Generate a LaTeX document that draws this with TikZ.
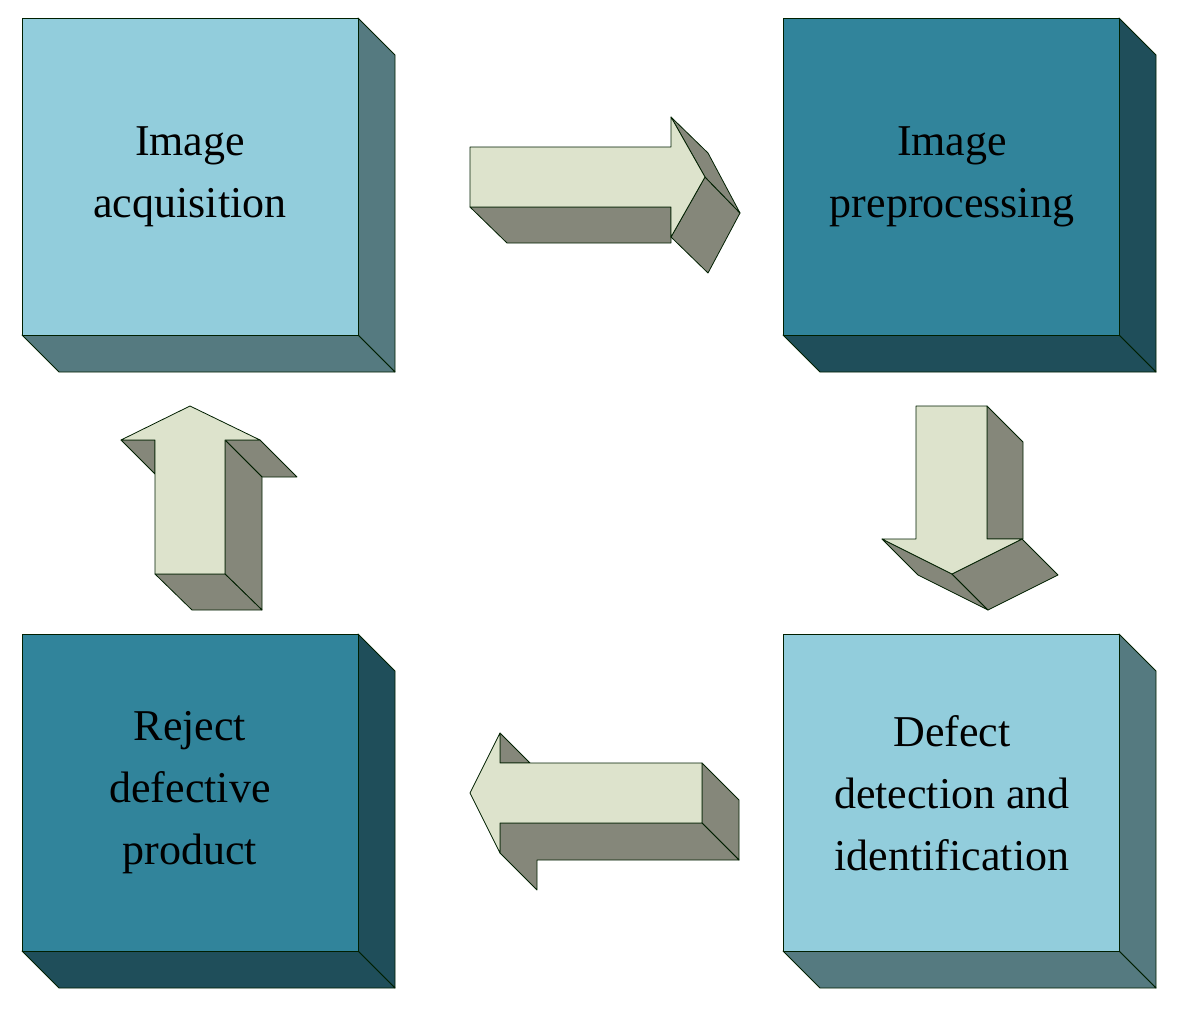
\documentclass[tikz,border=0pt]{standalone}
\usepackage{fontspec}
\setmainfont{Liberation Serif}
\begin{document}
\begin{tikzpicture}[x=1pt,y=-1pt,line join=round,
  edge/.style={draw=black!70!green!40!black,line width=0.8pt},
  lf/.style={edge,fill=lfront}, ls/.style={edge,fill=lside},
  df/.style={edge,fill=dfront}, ds/.style={edge,fill=dside},
  af/.style={edge,fill=afront}, as/.style={edge,fill=aside},
  lbl/.style={align=center,font=\fontsize{44}{62}\selectfont}]
\definecolor{lfront}{HTML}{92CDDC}\definecolor{lside}{HTML}{557A80}
\definecolor{dfront}{HTML}{31849B}\definecolor{dside}{HTML}{1F4E5A}
\definecolor{afront}{HTML}{DDE3CC}\definecolor{aside}{HTML}{85877A}
\useasboundingbox (0,0) rectangle (1189,1013);
% boxes
\foreach \x/\y/\f/\s in {22/18/lf/ls,783/18/df/ds,22/634/df/ds,783/634/lf/ls}{
  \draw[\s] (\x+336,\y) -- (\x+373,\y+37) -- (\x+373,\y+354) -- (\x+336,\y+317) -- cycle;
  \draw[\s] (\x,\y+317) -- (\x+336,\y+317) -- (\x+373,\y+354) -- (\x+37,\y+354) -- cycle;
  \draw[\f] (\x,\y) rectangle (\x+336,\y+317);
}
\node[lbl] (a) at (190,177) {Image\\acquisition};
\node[lbl] (b) at (952,177) {Image\\preprocessing};
\node[lbl] (c) at (952,793) {Defect\\detection and\\identification};
\node[lbl] (d) at (190,793) {Reject\\defective\\product};
% right arrow
\draw[as] (470,207) -- (507,243) -- (671,243) -- (671,207) -- cycle;
\draw[as] (671,237) -- (708,273) -- (740,213) -- (705,177) -- cycle;
\draw[as] (671,117) -- (708,153) -- (740,213) -- (705,177) -- cycle;
\draw[af] (470,147) -- (671,147) -- (671,117) -- (705,177) -- (671,237) -- (671,207) -- (470,207) -- cycle;
% down arrow
\draw[as] (987,406) -- (1023,442) -- (1023,539) -- (987,539) -- cycle;
\draw[as] (882,539) -- (918,575) -- (988,610) -- (952,574) -- cycle;
\draw[as] (952,574) -- (988,610) -- (1058,575) -- (1022,539) -- cycle;
\draw[af] (916,406) -- (987,406) -- (987,539) -- (1022,539) -- (952,574) -- (882,539) -- (916,539) -- cycle;
% up arrow
\draw[as] (225,440) -- (260,440) -- (297,477) -- (262,477) -- cycle;
\draw[as] (225,440) -- (262,477) -- (262,610) -- (225,574) -- cycle;
\draw[as] (155,574) -- (192,610) -- (262,610) -- (225,574) -- cycle;
\draw[as] (121,440) -- (155,474) -- (155,440) -- cycle;
\draw[af] (190,406) -- (260,440) -- (225,440) -- (225,574) -- (155,574) -- (155,440) -- (121,440) -- cycle;
% left arrow
\draw[as] (500,733) -- (530,763) -- (500,763) -- cycle;
\draw[as] (702,763) -- (739,800) -- (739,860) -- (702,823) -- cycle;
\draw[as] (500,823) -- (702,823) -- (739,860) -- (537,860) -- (537,890) -- (500,853) -- cycle;
\draw[af] (470,793) -- (500,733) -- (500,763) -- (702,763) -- (702,823) -- (500,823) -- (500,853) -- cycle;
\end{tikzpicture}
\end{document}
